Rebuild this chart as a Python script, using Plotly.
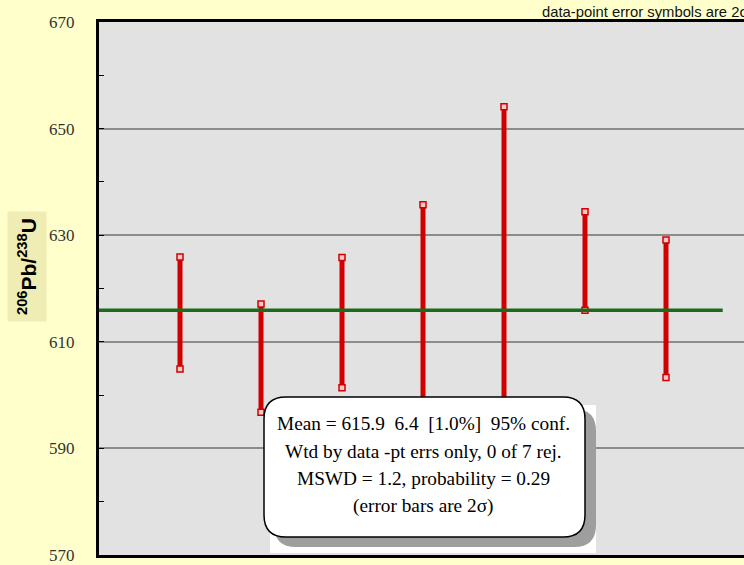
import plotly.graph_objects as go

# ---- data ----
spots = [1, 2, 3, 4, 5, 6, 7]
upper = [625.9, 617.1, 625.8, 635.7, 654.1, 634.4, 629.1]
lower = [604.9, 596.8, 601.4, 596.0, 578.0, 615.9, 603.3]
mean_value = 615.9
mean_span = [0.0, 7.7]
y_ticks = [570, 590, 610, 630, 650, 670]
box_lines = [
    "Mean = 615.9  6.4  [1.0%]  95% conf.",
    "Wtd by data -pt errs only, 0 of 7 rej.",
    "MSWD = 1.2, probability = 0.29",
    "(error bars are 2σ)",
]
corner_note = "data-point error symbols are 2σ"

W, H = 744, 565
L, T, B = 99, 22, 10
X0, X1 = 0.0, (W - L) / 81.0
Y0, Y1 = 570, 670
ppx = 81.0
ppy = (H - T - B) / (Y1 - Y0)


def dx(px):
    return X0 + (px - L) / ppx


def dy(py):
    return Y1 - (py - T) / ppy


fig = go.Figure()

# error bars as segments
bx, by = [], []
for s, lo, hi in zip(spots, lower, upper):
    bx += [s, s, None]
    by += [lo, hi, None]
fig.add_trace(go.Scatter(x=bx, y=by, mode="lines",
                         line=dict(color="#D00000", width=5),
                         hoverinfo="skip", showlegend=False))
# caps
fig.add_trace(go.Scatter(x=spots + spots, y=upper + lower, mode="markers",
                         marker=dict(symbol="square", size=6, color="#F6C8C8",
                                     line=dict(color="#D00000", width=1.5)),
                         hoverinfo="skip", showlegend=False))
# weighted mean line
fig.add_trace(go.Scatter(x=mean_span, y=[mean_value, mean_value], mode="lines",
                         line=dict(color="#1B6B1B", width=3.5),
                         hoverinfo="skip", showlegend=False))


def rounded_path(x0p, y0p, x1p, y1p, r):
    pts = [
        ("M", (x0p + r, y0p)),
        ("L", (x1p - r, y0p)),
        ("Q", (x1p, y0p), (x1p, y0p + r)),
        ("L", (x1p, y1p - r)),
        ("Q", (x1p, y1p), (x1p - r, y1p)),
        ("L", (x0p + r, y1p)),
        ("Q", (x0p, y1p), (x0p, y1p - r)),
        ("L", (x0p, y0p + r)),
        ("Q", (x0p, y0p), (x0p + r, y0p)),
    ]
    out = []
    for p in pts:
        cmd = p[0]
        coords = " ".join(f"{dx(a):.5f},{dy(b):.5f}" for a, b in p[1:])
        out.append(f"{cmd} {coords}")
    return " ".join(out) + " Z"


shapes = [
    dict(type="rect", xref="x", yref="y", x0=dx(270), x1=dx(596), y0=dy(405), y1=dy(553),
         fillcolor="white", line=dict(width=0), layer="above"),
    dict(type="path", xref="x", yref="y", path=rounded_path(274, 409, 596, 547, 22),
         fillcolor="#9E9E9E", line=dict(width=0), layer="above"),
    dict(type="path", xref="x", yref="y", path=rounded_path(264, 397, 585, 537, 22),
         fillcolor="white", line=dict(color="black", width=1.5), layer="above"),
]

annotations = []
for txt, py in zip(box_lines, [423, 451, 478, 506]):
    annotations.append(dict(x=dx(423), y=dy(py), xref="x", yref="y", text=txt,
                            showarrow=False, xanchor="center", yanchor="middle",
                            font=dict(family="Liberation Serif, Times New Roman, serif",
                                      size=19.3, color="black")))
annotations.append(dict(x=(540 - L) / (W - L), y=1 + (T - 12) / (H - T - B),
                        xref="paper", yref="paper", text=corner_note,
                        showarrow=False, xanchor="left", yanchor="middle",
                        font=dict(family="Liberation Sans, Arial, sans-serif", size=14.8,
                                  color="#111")))
annotations.append(dict(x=-(L - 27) / (W - L), y=1 - (267 - T) / (H - T - B),
                        xref="paper", yref="paper",
                        text="<sup>206</sup>Pb/<sup>238</sup>U", textangle=-90,
                        showarrow=False, xanchor="center", yanchor="middle",
                        bgcolor="#EFEDB4", borderpad=6,
                        font=dict(family="Liberation Sans, Arial, sans-serif", size=21,
                                  color="black", weight="bold")))

fig.update_layout(
    width=W, height=H,
    margin=dict(l=L, r=0, t=T, b=B, pad=0, autoexpand=False),
    paper_bgcolor="#FFFFCC",
    plot_bgcolor="#E2E2E2",
    shapes=shapes,
    annotations=annotations,
    showlegend=False,
    xaxis=dict(range=[X0, X1], showgrid=False, zeroline=False, showticklabels=False,
               automargin=False,
               ticks="", showline=True, mirror=True, linecolor="black", linewidth=3),
    yaxis=dict(range=[Y0, Y1], tickvals=y_ticks, showgrid=True, gridcolor="#8C8C8C",
               automargin=False,
               gridwidth=2, zeroline=False, showline=True, linecolor="black",
               linewidth=3, ticks="inside", ticklen=5, tickcolor="black",
               ticklabelstandoff=18,
               minor=dict(dtick=10, ticks="inside", ticklen=5, tickcolor="black",
                          showgrid=False),
               tickfont=dict(family="Liberation Serif, Times New Roman, serif", size=17,
                             color="#333")),
)

fig.write_html("out.html", config={"displayModeBar": False},
               post_script="document.body.style.margin='0';document.body.style.overflow='hidden';")
